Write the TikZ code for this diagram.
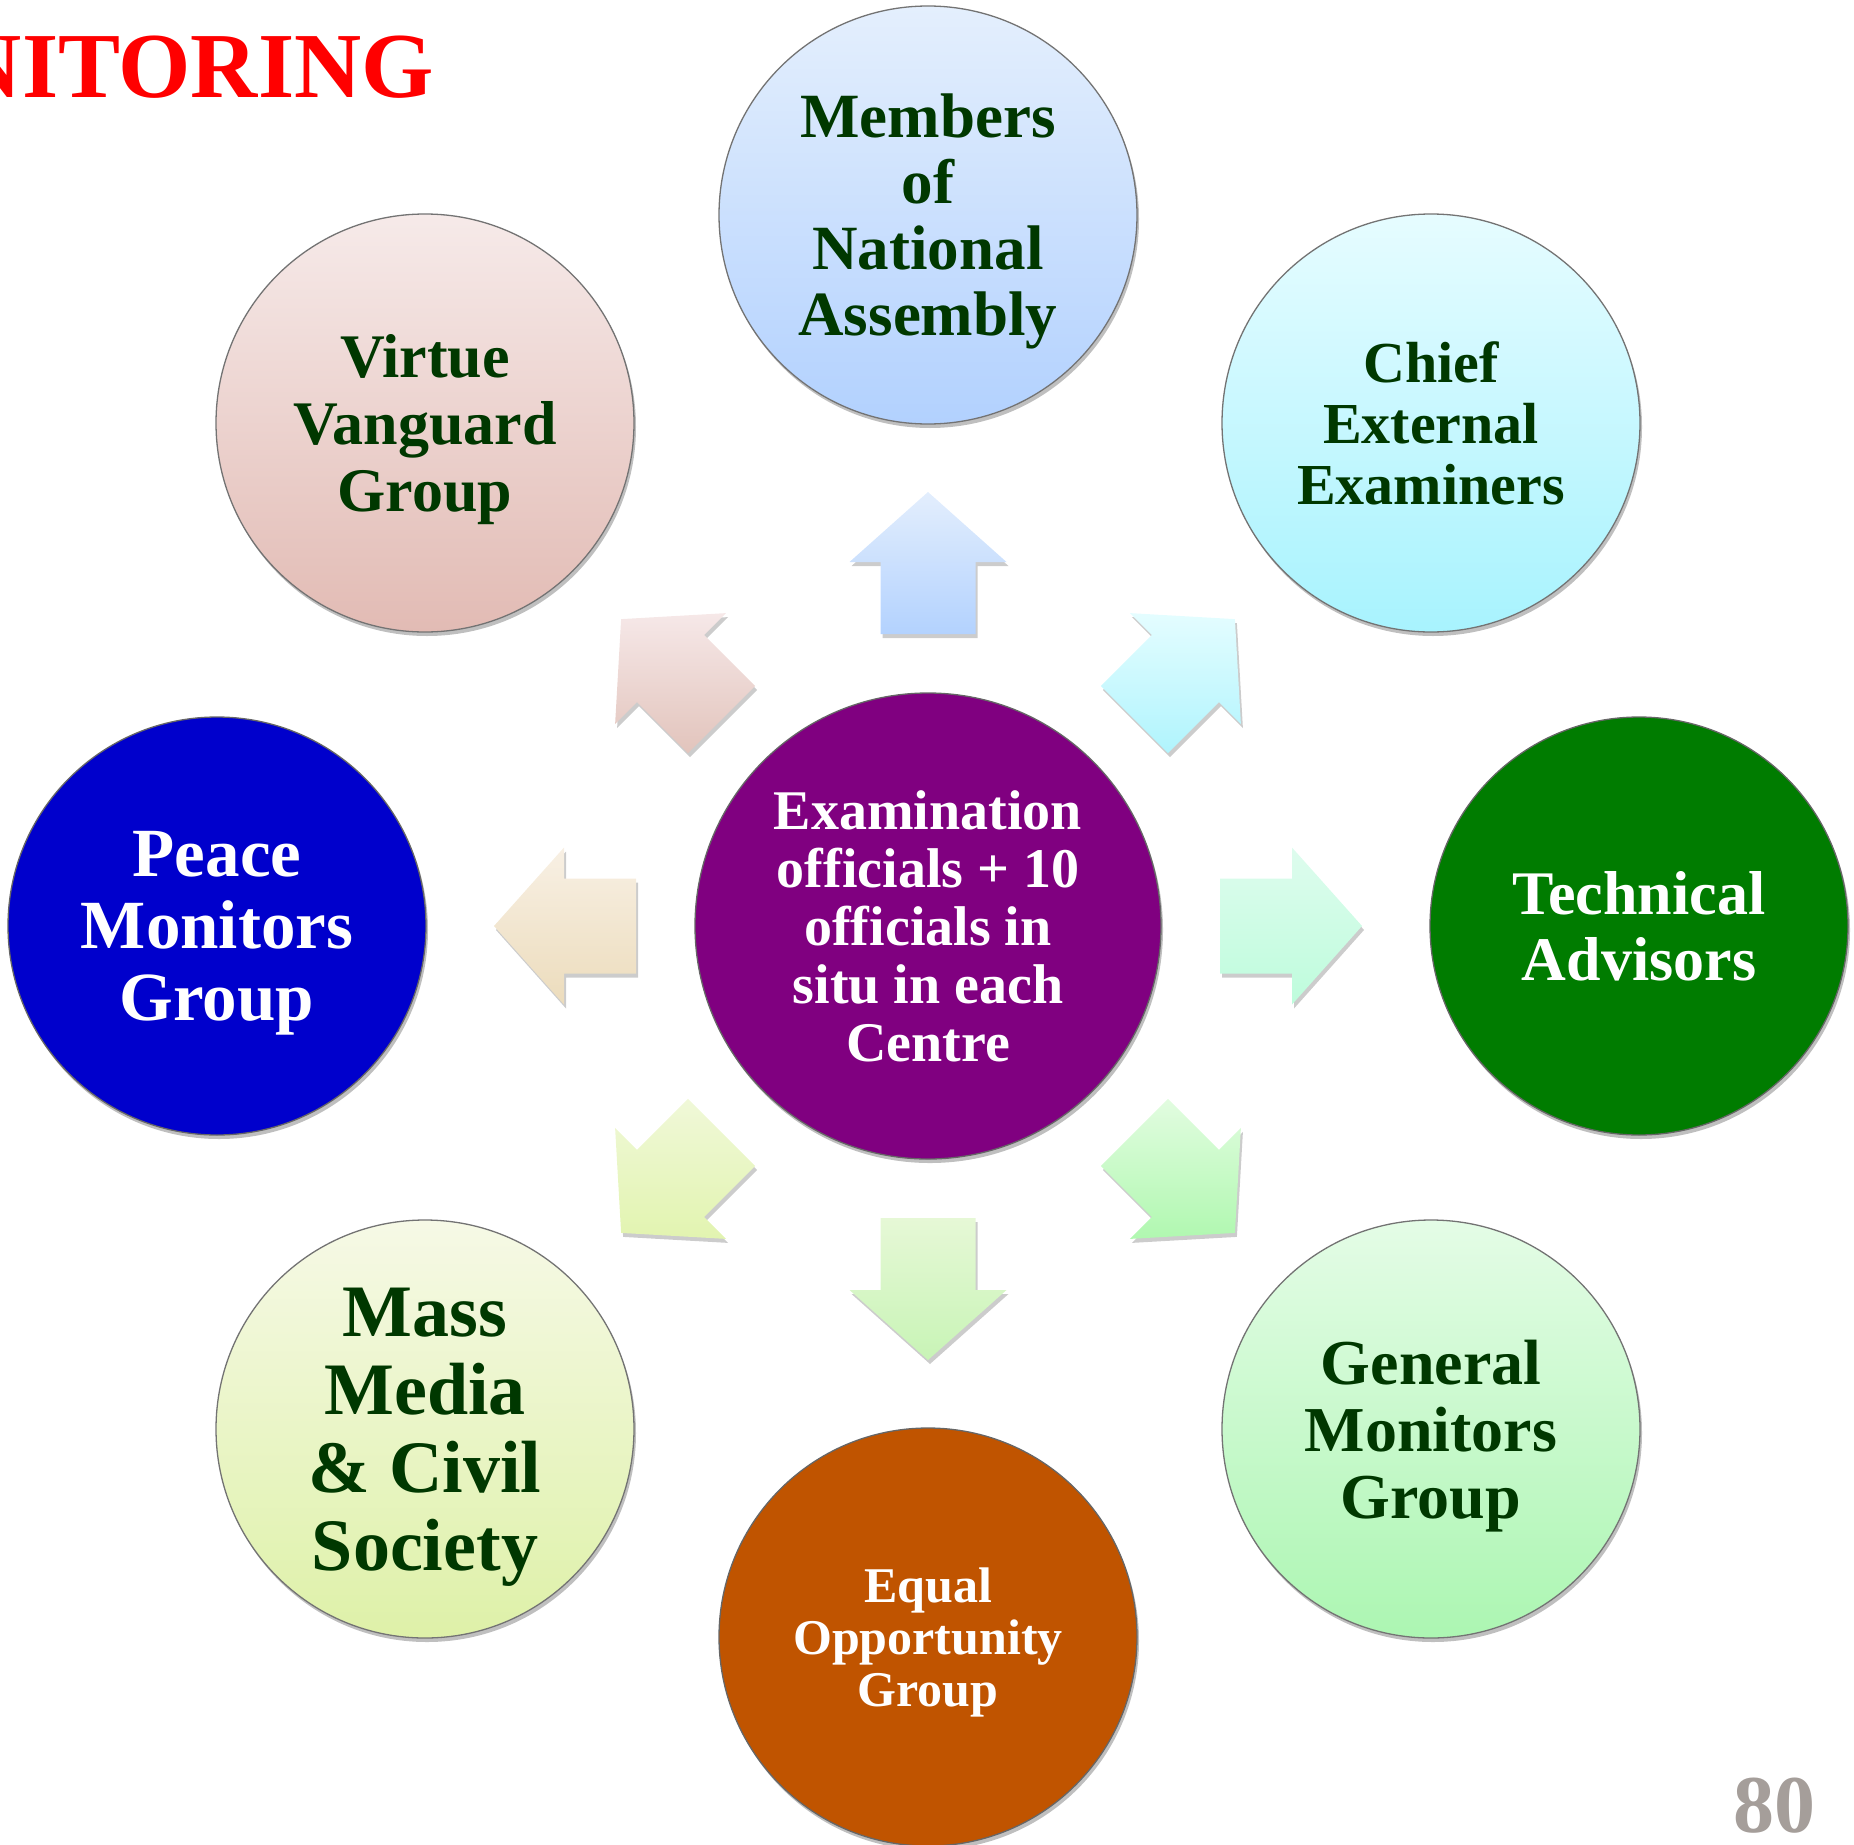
\documentclass[tikz,border=0pt]{standalone}
\usepackage{fontspec}
\setmainfont{Liberation Serif}
\usetikzlibrary{shadows,calc}
\definecolor{txtgreen}{RGB}{0,56,0}
\definecolor{headred}{RGB}{255,0,0}
\definecolor{pagegray}{RGB}{165,158,154}
\definecolor{cpurple}{RGB}{128,0,128}
\definecolor{cgreen}{RGB}{0,124,0}
\definecolor{cblue}{RGB}{0,0,204}
\definecolor{corange}{RGB}{192,84,0}
% circle gradients
\definecolor{memT}{RGB}{228,239,253}\definecolor{memB}{RGB}{178,209,254}
\definecolor{chiT}{RGB}{230,252,255}\definecolor{chiB}{RGB}{168,243,254}
\definecolor{genT}{RGB}{228,252,230}\definecolor{genB}{RGB}{172,246,178}
\definecolor{masT}{RGB}{246,249,230}\definecolor{masB}{RGB}{222,241,168}
\definecolor{virT}{RGB}{246,234,233}\definecolor{virB}{RGB}{226,187,180}
% arrow gradients
\definecolor{aUpT}{RGB}{227,238,253}\definecolor{aUpB}{RGB}{179,210,254}
\definecolor{aURT}{RGB}{228,253,255}\definecolor{aURB}{RGB}{176,244,253}
\definecolor{aRT}{RGB}{222,252,238}\definecolor{aRB}{RGB}{190,252,220}
\definecolor{aLRT}{RGB}{226,252,224}\definecolor{aLRB}{RGB}{176,248,176}
\definecolor{aDT}{RGB}{230,248,214}\definecolor{aDB}{RGB}{200,244,182}
\definecolor{aLLT}{RGB}{240,248,216}\definecolor{aLLB}{RGB}{226,244,176}
\definecolor{aLT}{RGB}{248,240,228}\definecolor{aLB}{RGB}{236,220,188}
\definecolor{aULT}{RGB}{246,232,232}\definecolor{aULB}{RGB}{226,196,188}
\newcommand\blockarrow[3]{%
  \path[arrowshape, top color=#2, bottom color=#3]
    ($(C)+(#1:292)+(#1+90:47.5)$) -- ($(C)+(#1:364)+(#1+90:47.5)$) --
    ($(C)+(#1:364)+(#1+90:78.5)$) -- ($(C)+(#1:434)$) --
    ($(C)+(#1:364)+(#1-90:78.5)$) -- ($(C)+(#1:364)+(#1-90:47.5)$) --
    ($(C)+(#1:292)+(#1-90:47.5)$) -- cycle;}
\newcommand\nodepth[1]{\raisebox{0pt}[\height][0pt]{#1}}
\begin{document}
\begin{tikzpicture}[x=1pt,y=-1pt,
  bubble/.style={circle, minimum size=418pt, inner sep=0pt, align=center,
    draw=black!55, line width=1.3pt, text=txtgreen,
    drop shadow={shadow xshift=2pt, shadow yshift=-4pt, opacity=0.25, fill=black}},
  darkbubble/.style={bubble, text=white, draw=black!60},
  arrowshape/.style={drop shadow={shadow xshift=2pt, shadow yshift=-4pt, opacity=0.2, fill=black}}
]
\useasboundingbox (0,0) rectangle (1854,1844);

\node[darkbubble, fill=cpurple, minimum size=466pt,
  font=\fontsize{56}{58}\selectfont\bfseries] (C) at (928,926)
  {Examination\\officials + 10\\officials in\\situ in each\\Centre};

\blockarrow{270}{aUpT}{aUpB}
\blockarrow{315}{aURT}{aURB}
\blockarrow{0}{aRT}{aRB}
\blockarrow{45}{aLRT}{aLRB}
\blockarrow{90}{aDT}{aDB}
\blockarrow{135}{aLLT}{aLLB}
\blockarrow{180}{aLT}{aLB}
\blockarrow{225}{aULT}{aULB}

\node[bubble, top color=memT, bottom color=memB,
  font=\fontsize{63}{66}\selectfont\bfseries] (mem) at (928,215)
  {Members\\of\\National\\\nodepth{Assembly}};
\node[bubble, top color=chiT, bottom color=chiB,
  font=\fontsize{58}{61}\selectfont\bfseries] (chi) at (1431,423)
  {Chief\\External\\Examiners};
\node[darkbubble, fill=cgreen,
  font=\fontsize{62}{66}\selectfont\bfseries] (tec) at (1639,926)
  {Technical\\Advisors};
\node[bubble, top color=genT, bottom color=genB,
  font=\fontsize{64}{67}\selectfont\bfseries] (gen) at (1431,1429)
  {General\\Monitors\\\nodepth{Group}};
\node[darkbubble, fill=corange,
  font=\fontsize{50}{52}\selectfont\bfseries] (equ) at (928,1637)
  {Equal\\Opportunity\\\nodepth{Group}};
\node[bubble, top color=masT, bottom color=masB,
  font=\fontsize{74}{78}\selectfont\bfseries] (mas) at (425,1429)
  {Mass\\Media\\\& Civil\\\nodepth{Society}};
\node[darkbubble, fill=cblue,
  font=\fontsize{69}{72}\selectfont\bfseries] (pea) at (217,926)
  {Peace\\Monitors\\\nodepth{Group}};
\node[bubble, top color=virT, bottom color=virB,
  font=\fontsize{62}{67}\selectfont\bfseries] (vir) at (425,423)
  {Virtue\\Vanguard\\\nodepth{Group}};

\node[anchor=base east, inner sep=0pt, text=headred,
  font=\fontsize{93}{93}\selectfont\bfseries] (title) at (434,97) {NITORING};
\node[anchor=base east, inner sep=0pt, text=pagegray,
  font=\fontsize{82}{82}\selectfont\bfseries] (pnum) at (1816,1832) {80};
\end{tikzpicture}
\end{document}
